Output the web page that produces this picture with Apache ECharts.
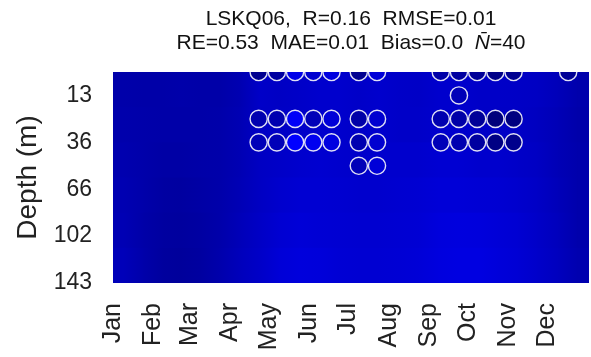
<!DOCTYPE html>
<html>
<head>
<meta charset="utf-8">
<script src="https://cdn.jsdelivr.net/npm/echarts@6/dist/echarts.min.js"></script>
<style>
html,body{margin:0;padding:0;background:#fff;}
#c{width:591px;height:357px;}
</style>
</head>
<body>
<div id="c"></div>
<script>
// ---- axis labels ----
const months = ['Jan','Feb','Mar','Apr','May','Jun','Jul','Aug','Sep','Oct','Nov','Dec'];
const monthStartDays = [0,31,59,90,120,151,181,212,243,273,304,334];
const depthTickIndex = [1,3,5,7,9];
const depthTickLabels = ['13','36','66','102','143'];

// ---- modelled field: 24 half-month samples x 6 depth bands (top -> bottom) ----
const fieldDays = [8,23,38,52,67,82,98,113,128,143,159,174,189,204,220,235,250,265,281,296,311,326,342,357];
const fieldBandEdges = [0,1.5,3,4.5,6,7.5,9];   // in depth-level units
const fieldBand0 = [0.170,0.168,0.168,0.170,0.168,0.168,0.178,0.200,0.196,0.200,0.205,0.205,0.200,0.205,0.200,0.198,0.205,0.205,0.200,0.200,0.198,0.195,0.185,0.172];
const fieldBand1 = [0.172,0.170,0.168,0.168,0.168,0.170,0.180,0.198,0.198,0.200,0.205,0.205,0.200,0.205,0.200,0.200,0.205,0.205,0.200,0.198,0.198,0.192,0.182,0.170];
const fieldBand2 = [0.175,0.170,0.165,0.165,0.168,0.170,0.180,0.195,0.200,0.205,0.208,0.205,0.202,0.205,0.205,0.205,0.210,0.210,0.205,0.205,0.200,0.195,0.182,0.172];
const fieldBand3 = [0.178,0.170,0.162,0.160,0.165,0.170,0.182,0.195,0.205,0.210,0.210,0.208,0.205,0.205,0.208,0.210,0.215,0.215,0.212,0.210,0.205,0.198,0.185,0.172];
const fieldBand4 = [0.180,0.168,0.160,0.158,0.162,0.170,0.185,0.198,0.210,0.215,0.212,0.210,0.208,0.208,0.210,0.212,0.220,0.222,0.220,0.215,0.210,0.200,0.188,0.172];
const fieldBand5 = [0.185,0.170,0.158,0.155,0.160,0.172,0.188,0.200,0.215,0.220,0.218,0.212,0.210,0.210,0.212,0.215,0.222,0.225,0.225,0.218,0.212,0.202,0.190,0.175];

// ---- observations (circles): sampling days, values per depth level ----
const obsDays = [112,126,140,154,168,189,203,252,266,280,294,308,350];
const obsLevel0 = [0.144,0.160,0.232,0.208,0.224,0.144,0.216,0.168,0.160,0.152,0.136,0.144,0.150];
const obsLevel1 = [null,null,null,null,null,null,null,null,0.184,null,null,null,null];
const obsLevel2 = [0.176,0.176,0.248,0.184,0.216,0.168,0.208,0.176,0.168,0.152,0.124,0.128,null];
const obsLevel3 = [0.184,0.184,0.255,0.240,0.224,0.176,0.208,0.184,0.176,0.160,0.132,0.140,null];
const obsLevel4 = [null,null,null,null,null,0.184,0.216,null,null,null,null,null,null];

// build tables
const fieldRows = [fieldBand0,fieldBand1,fieldBand2,fieldBand3,fieldBand4,fieldBand5];
const fieldData = [];
fieldRows.forEach((row, r) => row.forEach((v, c) => fieldData.push([fieldDays[c], r, v, c])));
const obsLevels = [obsLevel0,obsLevel1,obsLevel2,obsLevel3,obsLevel4];
const obsData = [];
obsLevels.forEach((row, lvl) => row.forEach((v, i) => { if (v != null) obsData.push([obsDays[i], lvl, v]); }));

const X_MIN = 0, X_MAX = 366;
const FONT = 'Liberation Sans';
const chart = echarts.init(document.getElementById('c'), null, {renderer:'canvas'});

function renderField(params, api) {
  const idx = params.dataIndexInside;
  const band = api.value(1);
  const col = api.value(3);
  const nCol = fieldDays.length;
  const yTop = api.coord([X_MIN, fieldBandEdges[band]])[1];
  const yBot = api.coord([X_MIN, fieldBandEdges[band + 1]])[1];
  const c0 = api.visual('color');
  const children = [];
  const x0 = api.coord([api.value(0), 0])[0];
  if (col === 0) {
    const xl = api.coord([X_MIN, 0])[0];
    children.push({type: 'rect', shape: {x: xl - 1, y: yTop, width: x0 - xl + 2, height: yBot - yTop + 1},
                   style: {fill: c0}});
  }
  if (col < nCol - 1) {
    const c1 = api.visual('color', idx + 1);
    const x1 = api.coord([fieldDays[col + 1], 0])[0];
    children.push({type: 'rect', shape: {x: x0, y: yTop, width: x1 - x0 + 1, height: yBot - yTop + 1},
                   style: {fill: new echarts.graphic.LinearGradient(0, 0, 1, 0, [{offset: 0, color: c0}, {offset: 1, color: c1}])}});
  } else {
    const xr = api.coord([X_MAX, 0])[0];
    children.push({type: 'rect', shape: {x: x0, y: yTop, width: xr - x0 + 2, height: yBot - yTop + 1},
                   style: {fill: c0}});
  }
  return {type: 'group', children};
}

chart.setOption({
  backgroundColor: '#ffffff',
  animation: false,
  textStyle: {fontFamily: FONT},
  title: {
    left: 346, top: 2, textAlign: 'center',
    text: '{a|LSKQ06,  R=0.16  RMSE=0.01}\n{a|RE=0.53  MAE=0.01  Bias=0.0  }{i|N\u0304}{a|=40}',
    textStyle: {
      fontFamily: FONT, fontWeight: 'normal',
      rich: {
        a: {fontSize: 21, lineHeight: 24, color: '#111', fontWeight: 'normal', fontFamily: FONT},
        i: {fontSize: 21, lineHeight: 24, color: '#111', fontWeight: 'normal', fontStyle: 'italic', fontFamily: FONT}
      }
    }
  },
  grid: {left: 113, top: 72, width: 476, height: 211, containLabel: false, outerBoundsMode: 'none'},
  visualMap: {
    show: false, seriesIndex: [0, 1], dimension: 2,
    min: 0.112, max: 0.255,
    inRange: {color: ['#000070', '#0000ff']}
  },
  xAxis: {
    type: 'value', min: X_MIN, max: X_MAX, position: 'bottom',
    axisLine: {show: false}, axisTick: {show: false}, splitLine: {show: false},
    axisLabel: {
      customValues: monthStartDays, rotate: 90, fontSize: 25, margin: 20, color: '#222', fontFamily: FONT,
      formatter: v => months[monthStartDays.indexOf(v)]
    }
  },
  yAxis: {
    type: 'value', min: 0, max: 9, inverse: true, position: 'left',
    name: 'Depth (m)', nameLocation: 'middle', nameGap: 65, nameRotate: 90,
    nameTextStyle: {fontSize: 28, color: '#222', fontFamily: FONT},
    axisLine: {show: false}, axisTick: {show: false}, splitLine: {show: false},
    axisLabel: {
      customValues: depthTickIndex, fontSize: 23, margin: 21, color: '#222', fontFamily: FONT,
      formatter: v => depthTickLabels[depthTickIndex.indexOf(v)]
    }
  },
  series: [
    {type: 'custom', data: fieldData, clip: true, encode: {x: 0, y: 1},
     renderItem: renderField, silent: true},
    {type: 'custom', data: obsData, clip: true, encode: {x: 0, y: 1},
     renderItem: (params, api) => {
       const p = api.coord([api.value(0), api.value(1)]);
       return {type: 'circle', shape: {cx: p[0], cy: p[1], r: 8.6},
               style: {fill: api.visual('color'), stroke: 'rgba(236,236,248,0.95)', lineWidth: 1.4}};
     }}
  ]
});
</script>
</body>
</html>
